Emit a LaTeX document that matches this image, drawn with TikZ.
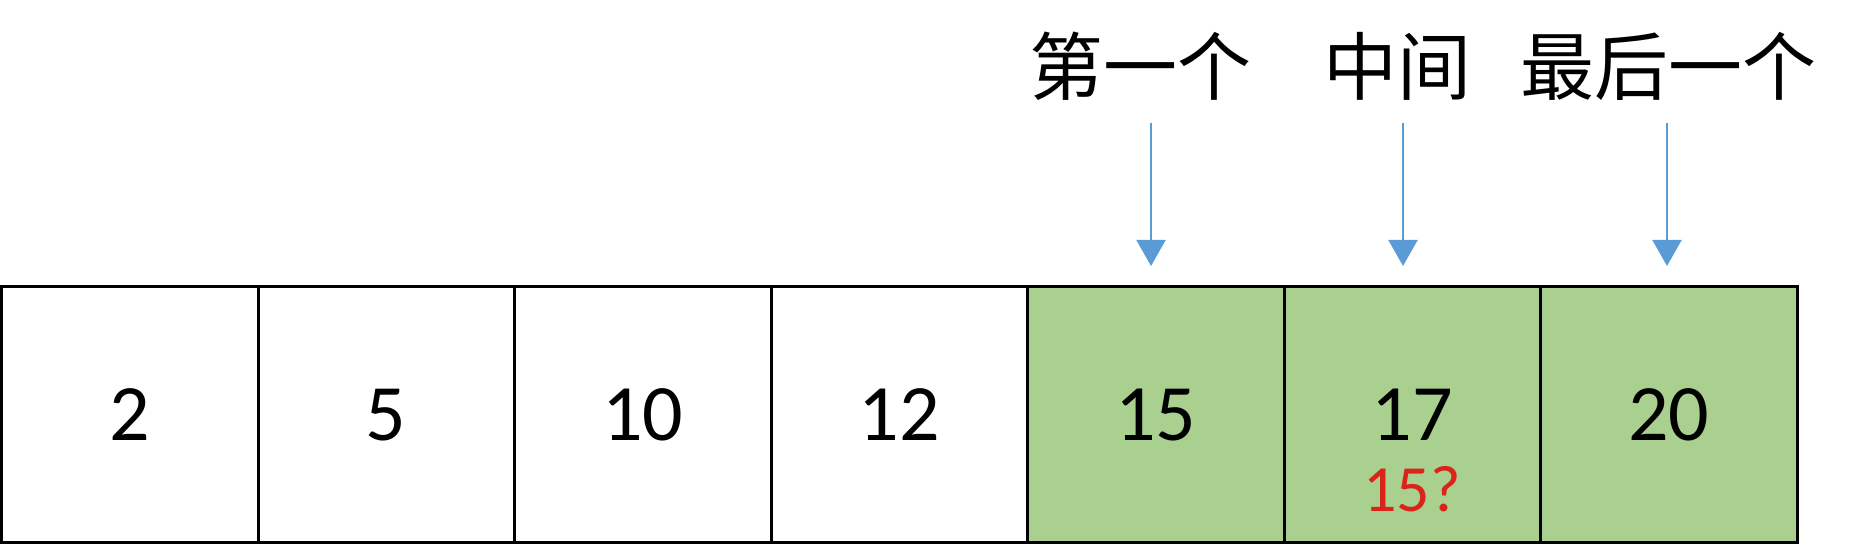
\documentclass[tikz,border=0pt]{standalone}
\usepackage{fontspec}
\setmainfont{Carlito}
\newfontfamily\cjkfont{Noto Sans CJK SC}
\usetikzlibrary{positioning,arrows.meta}
\definecolor{CellGreen}{RGB}{169,208,142}
\definecolor{PtrBlue}{RGB}{91,155,213}
\definecolor{GuessRed}{RGB}{218,36,26}
\tikzset{
  cell/.style={draw=black,line width=1.5pt,minimum width=128.25pt,minimum height=128pt,
    inner sep=0pt,outer sep=0pt,font=\fontsize{40}{40}\selectfont},
  hit/.style={cell,fill=CellGreen},
  ptr/.style={draw=PtrBlue,line width=1pt,-{Triangle[width=14.5pt,length=13pt]}},
  tag/.style={inner sep=0pt,font=\cjkfont\fontsize{37}{37}\selectfont},
  guess/.style={inner sep=0pt,text=GuessRed,font=\fontsize{33}{33}\selectfont},
}
\begin{document}
\begin{tikzpicture}[x=0.5pt,y=0.5pt]
\useasboundingbox (0,0) rectangle (1876,544);
% the sorted array
\node[cell] (c1) at (129.75,129) {2};
\node[cell,right=0pt of c1] (c2) {5};
\node[cell,right=0pt of c2] (c3) {10};
\node[cell,right=0pt of c3] (c4) {12};
\node[hit,right=0pt of c4] (c5) {15};
\node[hit,right=0pt of c5] (c6) {17};
\node[hit,right=0pt of c6] (c7) {20};
\node[guess] (g6) at ([yshift=-37pt]c6.center) {15?};
% pointer labels
\node[tag] (first) at (1140,478) {第一个};
\node[tag] (mid) at (1397,478) {中间};
\node[tag] (last) at (1668,478) {最后一个};
\coordinate (t5) at (1151,421);
\coordinate (t6) at (1403,421);
\coordinate (t7) at (1667,421);
\draw[ptr,shorten >=10.5pt] (t5) -- (t5 |- c5.north);
\draw[ptr,shorten >=10.5pt] (t6) -- (t6 |- c6.north);
\draw[ptr,shorten >=10.5pt] (t7) -- (t7 |- c7.north);
\end{tikzpicture}
\end{document}
